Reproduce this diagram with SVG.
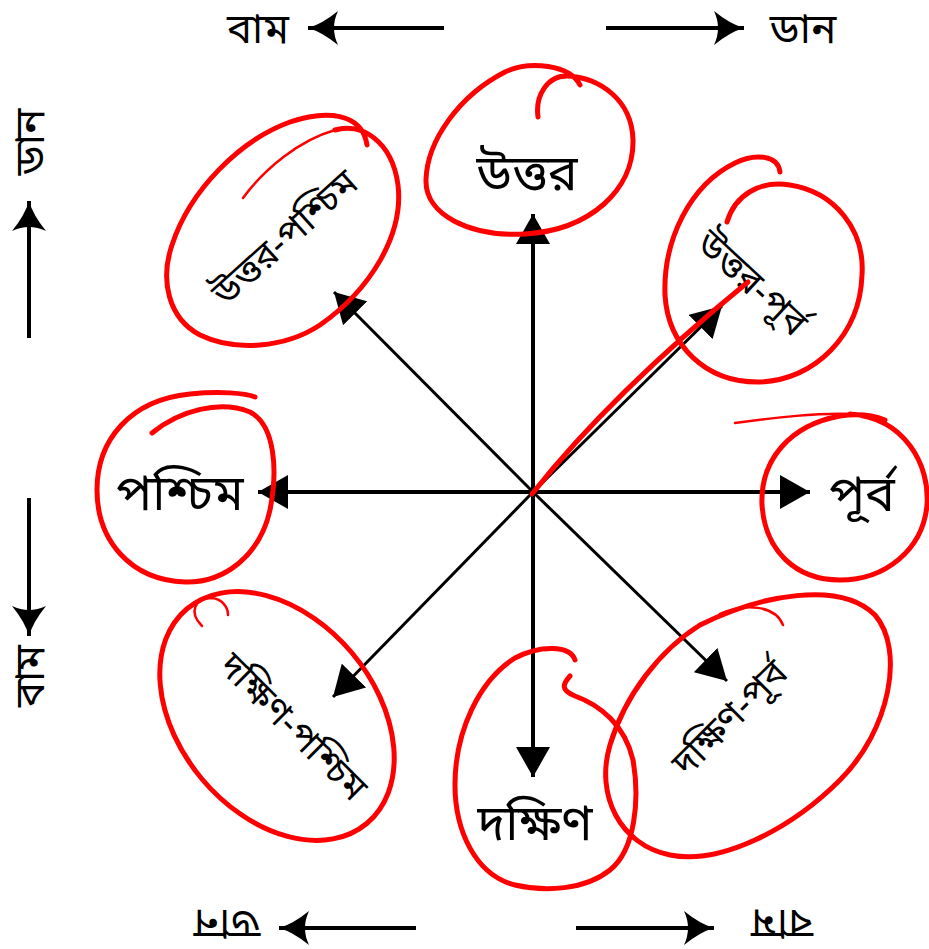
<svg xmlns="http://www.w3.org/2000/svg" width="929" height="949" viewBox="0 0 929 949">
<style>
.lbl{font-family:"Noto Sans Bengali","Noto Serif Bengali","Lohit Bengali","FreeSerif","Noto Sans",sans-serif;fill:#000;text-anchor:middle}
.big{font-size:50px}
.diag{font-size:37px}
.dir{font-size:42px}
.ax{stroke:#000;stroke-width:4;fill:none}
.dg{stroke:#000;stroke-width:3;fill:none}
.side{stroke:#000;stroke-width:4;fill:none}
.loop{stroke:#f00;stroke-width:5;fill:none;stroke-linecap:round;stroke-linejoin:round}
.thin{stroke:#f00;stroke-width:2.5;fill:none;stroke-linecap:round}
</style>
<defs>
<marker id="tri" markerUnits="userSpaceOnUse" markerWidth="32" markerHeight="34" refX="30" refY="17" orient="auto" viewBox="0 0 32 34">
<path d="M0,0 L30,17 L0,34 Z" fill="#000"/>
</marker>
<marker id="swept" markerUnits="userSpaceOnUse" markerWidth="34" markerHeight="36" refX="32" refY="18" orient="auto" viewBox="0 0 34 36">
<path d="M32,18 Q18,14 2,1 Q10,18 2,35 Q18,22 32,18 Z" fill="#000"/>
</marker>
</defs>

<g id="connectors">
<line class="ax" x1="533" y1="492" x2="533" y2="214" marker-end="url(#tri)"/>
<line class="ax" x1="533" y1="492" x2="533" y2="777" marker-end="url(#tri)"/>
<line class="ax" x1="533" y1="492" x2="258" y2="492" marker-end="url(#tri)"/>
<line class="ax" x1="533" y1="492" x2="810" y2="492" marker-end="url(#tri)"/>
<line class="dg" x1="533" y1="492" x2="334" y2="292" marker-end="url(#tri)"/>
<line class="dg" x1="533" y1="492" x2="722" y2="306" marker-end="url(#tri)"/>
<line class="dg" x1="533" y1="492" x2="727" y2="681" marker-end="url(#tri)"/>
<line class="dg" x1="533" y1="492" x2="333" y2="697" marker-end="url(#tri)"/>
<line class="side" x1="444" y1="28" x2="308" y2="28" marker-end="url(#swept)"/>
<line class="side" x1="606" y1="28" x2="744" y2="28" marker-end="url(#swept)"/>
<line class="side" x1="29" y1="338" x2="29" y2="201" marker-end="url(#swept)"/>
<line class="side" x1="29" y1="498" x2="29" y2="636" marker-end="url(#swept)"/>
<line class="side" x1="416" y1="928" x2="279" y2="928" marker-end="url(#swept)"/>
<line class="side" x1="576" y1="928" x2="714" y2="928" marker-end="url(#swept)"/>
</g>

<g id="dir-labels">
<text class="lbl dir" x="258" y="43">বাম</text>
<text class="lbl dir" x="803" y="43">ডান</text>
<text class="lbl dir" transform="translate(29,142) rotate(-90)" x="0" y="15">ডান</text>
<text class="lbl dir" transform="translate(29,676) rotate(-90)" x="0" y="15">বাম</text>
<text class="lbl dir" transform="translate(227,925) rotate(180)" x="0" y="15">ডান</text>
<text class="lbl dir" transform="translate(782,925) rotate(180)" x="0" y="15">বাম</text>
</g>

<g id="north"><text class="lbl big" x="527" y="190">উত্তর</text></g>
<g id="west"><text class="lbl big" x="180" y="510">পশ্চিম</text></g>
<g id="east"><text class="lbl big" x="862" y="511">পূর্ব</text></g>
<g id="south"><text class="lbl big" x="535" y="840">দক্ষিণ</text></g>
<g id="northwest"><text class="lbl diag" transform="translate(285,238) rotate(-42)" x="0" y="12">উত্তর-পশ্চিম</text></g>
<g id="northeast"><text class="lbl diag" transform="translate(752,283) rotate(43)" x="0" y="12">উত্তর-পূর্ব</text></g>
<g id="southeast"><text class="lbl diag" transform="translate(730,718) rotate(-45)" x="0" y="12">দক্ষিণ-পূর্ব</text></g>
<g id="southwest"><text class="lbl diag" transform="translate(293,727) rotate(45)" x="0" y="12">দক্ষিণ-পশ্চিম</text></g>

<g id="red-marks">
<path class="loop" d="M538,117 C535,95 548,75 568,76 C600,78 632,100 633,140 C634,190 590,230 525,234 C470,237 425,215 426,180 C427,140 460,95 505,72 C530,60 570,65 580,85"/>
<path class="thin" d="M243,198 C265,168 300,140 335,130"/>
<path class="loop" d="M335,130 C360,122 392,140 398,185 C404,235 370,290 320,325 C285,348 235,352 200,335 C168,318 160,280 172,245 C190,190 240,140 290,122 C325,110 362,112 367,145"/>
<path class="loop" d="M727,222 C735,195 760,180 790,185 C835,192 865,230 862,275 C860,335 815,380 760,382 C705,383 668,345 665,295 C663,240 690,185 735,163 C755,153 778,155 780,172"/>
<path d="M532,494 Q612,393 748,282" stroke="#f00" stroke-width="5" fill="none" stroke-linecap="round"/>
<path class="loop" d="M152,433 C180,410 220,400 250,412 C275,425 278,470 270,510 C260,555 225,583 185,582 C130,580 97,540 97,490 C97,440 130,400 190,394 C220,391 245,393 255,397"/>
<path class="thin" d="M735,423 C780,417 815,413 850,414"/>
<path class="loop" d="M850,414 C905,418 930,465 927,505 C923,550 885,580 840,580 C795,580 765,550 762,505 C760,460 790,425 840,416 C860,413 875,416 885,420"/>
<path class="loop" d="M570,676 C563,684 560,690 575,696 C600,705 625,725 633,760 C640,800 635,850 610,870 C585,890 545,892 515,885 C475,875 455,830 455,785 C455,730 480,680 515,658 C540,645 570,645 575,660"/>
<path class="loop" d="M700,625 C760,595 840,580 875,615 C905,650 890,730 840,780 C790,830 720,865 670,855 C620,845 595,795 610,745 C625,695 660,650 700,625"/>
<path class="thin" d="M720,614 C745,603 775,605 783,625"/>
<ellipse class="loop" cx="277" cy="716" rx="140" ry="98" transform="rotate(50 277 716)"/>
<path class="thin" d="M202,626 C188,612 195,598 212,598 C222,599 228,607 228,615"/>
</g>
</svg>
